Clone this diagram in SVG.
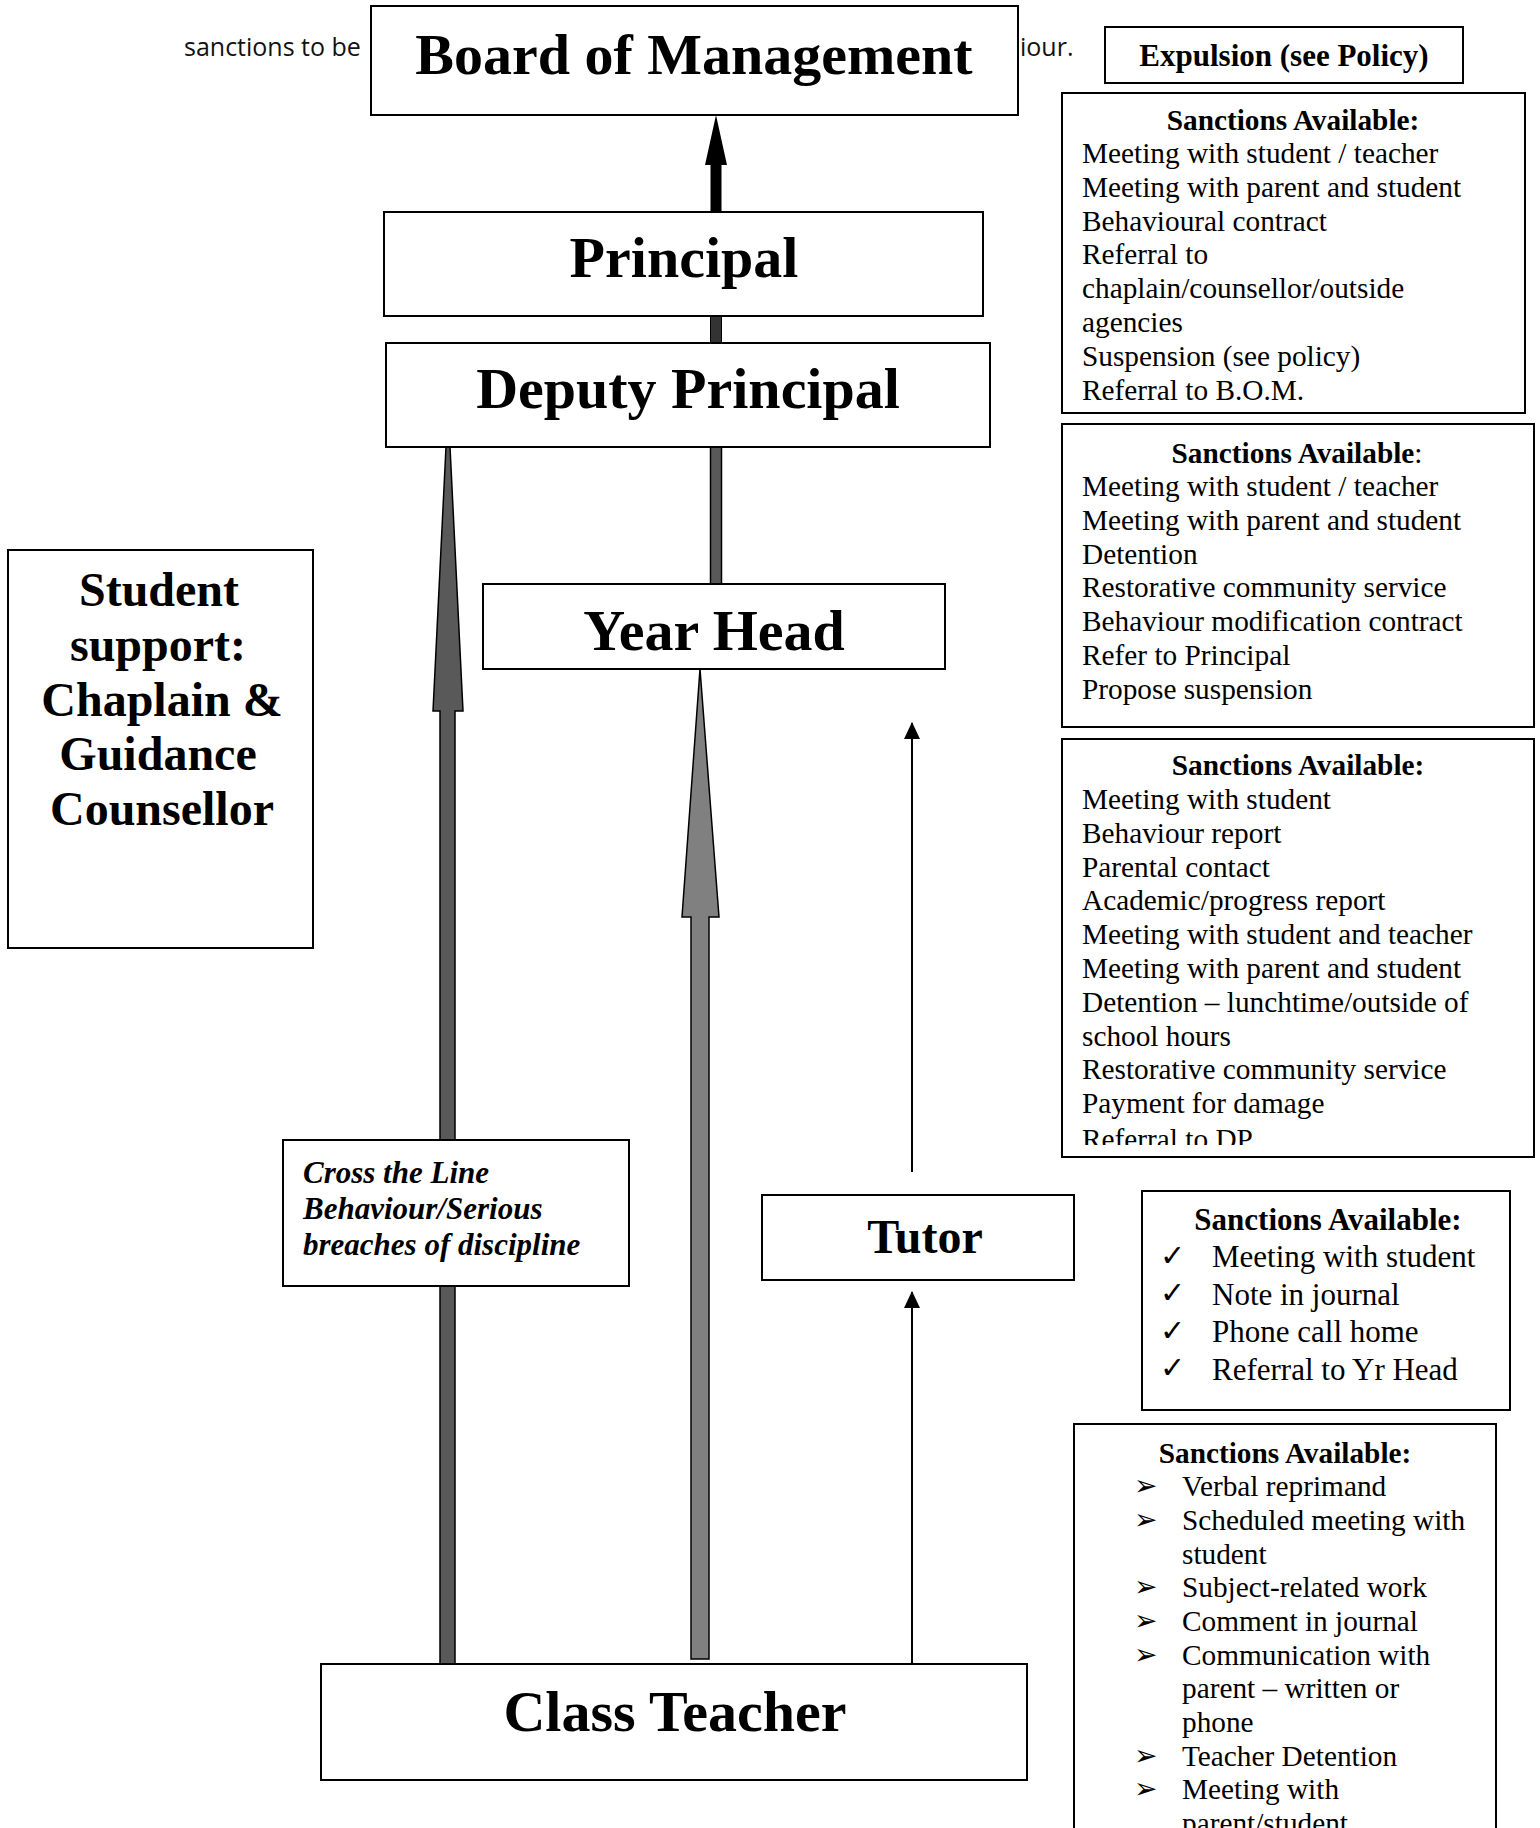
<svg xmlns="http://www.w3.org/2000/svg" width="1540" height="1828" viewBox="0 0 1540 1828">
<style>
.box{fill:#fff;stroke:#000;stroke-width:2}
.t{font-family:"Liberation Serif","Times New Roman",serif;fill:#000}
.big{font-size:58px;font-weight:bold;text-anchor:middle}
.hd{font-size:29.3px;font-weight:bold;text-anchor:middle}
.it{font-size:29.3px}
.intro{font-family:"Open Sans","Liberation Sans",sans-serif;font-size:25px;fill:#111}
.sym{font-family:"DejaVu Sans",sans-serif}
</style>
<defs>
<marker id="ah" markerUnits="userSpaceOnUse" markerWidth="17" markerHeight="16" refX="16" refY="8" orient="auto" viewBox="0 0 17 16">
<path d="M0 0 L17 8 L0 16 Z" fill="#000"/>
</marker>
<clipPath id="clip3"><rect x="1062" y="739" width="472" height="406"/></clipPath>
</defs>
<text class="intro" x="184" y="56">sanctions to be</text>
<text class="intro" x="1020" y="56">iour.</text>
<g id="connectors">
<polygon points="716,115 727,165 721.5,165 721.5,212 710.5,212 710.5,165 705,165" fill="#000"/>
<rect x="710.5" y="316" width="11" height="27" fill="#333" stroke="#000" stroke-width="1"/>
<rect x="710.5" y="447" width="11" height="137" fill="#595959" stroke="#000" stroke-width="1.5"/>
<polygon points="446,447 450,447 463,711 455,711 455,1664 440,1664 440,711 433,711" fill="#595959" stroke="#000" stroke-width="1.5"/>
<polygon points="700,669 719,917 709,917 709,1659 691,1659 691,917 682,917" fill="#808080" stroke="#000" stroke-width="1.5"/>
<line x1="912" y1="1664" x2="912" y2="1292" stroke="#000" stroke-width="2" marker-end="url(#ah)"/>
<line x1="912" y1="1172" x2="912" y2="723" stroke="#000" stroke-width="2" marker-end="url(#ah)"/>
</g>
<g id="board">
<rect class="box" x="371" y="6" width="647" height="109"/>
<text class="t big" x="694" y="74">Board of Management</text>
</g>
<g id="expulsion">
<rect class="box" x="1105" y="27" width="358" height="56"/>
<text class="t" x="1284" y="66" font-size="31" font-weight="bold" text-anchor="middle">Expulsion (see Policy)</text>
</g>
<g id="principal">
<rect class="box" x="384" y="212" width="599" height="104"/>
<text class="t big" x="684" y="277">Principal</text>
</g>
<g id="deputy">
<rect class="box" x="386" y="343" width="604" height="104"/>
<text class="t big" x="688" y="408">Deputy Principal</text>
</g>
<g id="yearhead">
<rect class="box" x="483" y="584" width="462" height="85"/>
<text class="t big" x="714" y="650">Year Head</text>
</g>
<g id="tutor">
<rect class="box" x="762" y="1195" width="312" height="85"/>
<text class="t" x="925" y="1253" font-size="48" font-weight="bold" text-anchor="middle">Tutor</text>
</g>
<g id="classteacher">
<rect class="box" x="321" y="1664" width="706" height="116"/>
<text class="t big" x="675" y="1731">Class Teacher</text>
</g>
<g id="studentsupport">
<rect class="box" x="8" y="550" width="305" height="398"/>
<text class="t" font-size="48" font-weight="bold" text-anchor="middle">
<tspan x="165" y="606">Student</tspan>
<tspan x="164" y="661">support:</tspan>
<tspan x="168" y="716">Chaplain &amp;</tspan>
<tspan x="164" y="770">Guidance</tspan>
<tspan x="162" y="825">Counsellor</tspan>
</text>
</g>
<g id="crossline">
<rect class="box" x="283" y="1140" width="346" height="146"/>
<text class="t" font-size="31" font-weight="bold" font-style="italic">
<tspan x="303" y="1183">Cross the Line</tspan>
<tspan x="303" y="1219">Behaviour/Serious</tspan>
<tspan x="303" y="1255">breaches of discipline</tspan>
</text>
</g>
<g id="sanctions-principal">
<rect class="box" x="1062" y="93" width="463" height="320"/>
<text class="t hd" x="1293" y="130">Sanctions Available:</text>
<text class="t it">
<tspan x="1082" y="163">Meeting with student / teacher</tspan>
<tspan x="1082" y="196.8">Meeting with parent and student</tspan>
<tspan x="1082" y="230.6">Behavioural contract</tspan>
<tspan x="1082" y="264.4">Referral to</tspan>
<tspan x="1082" y="298.2">chaplain/counsellor/outside</tspan>
<tspan x="1082" y="332">agencies</tspan>
<tspan x="1082" y="365.8">Suspension (see policy)</tspan>
<tspan x="1082" y="399.6">Referral to B.O.M.</tspan>
</text>
</g>
<g id="sanctions-deputy">
<rect class="box" x="1062" y="424" width="472" height="303"/>
<text class="t hd" x="1297" y="463">Sanctions Available<tspan font-weight="normal">:</tspan></text>
<text class="t it">
<tspan x="1082" y="496">Meeting with student / teacher</tspan>
<tspan x="1082" y="529.8">Meeting with parent and student</tspan>
<tspan x="1082" y="563.6">Detention</tspan>
<tspan x="1082" y="597.4">Restorative community service</tspan>
<tspan x="1082" y="631.2">Behaviour modification contract</tspan>
<tspan x="1082" y="665">Refer to Principal</tspan>
<tspan x="1082" y="698.8">Propose suspension</tspan>
</text>
</g>
<g id="sanctions-yearhead">
<rect class="box" x="1062" y="739" width="472" height="418"/>
<text class="t hd" x="1298" y="775">Sanctions Available:</text>
<text class="t it" clip-path="url(#clip3)">
<tspan x="1082" y="809">Meeting with student</tspan>
<tspan x="1082" y="842.8">Behaviour report</tspan>
<tspan x="1082" y="876.6">Parental contact</tspan>
<tspan x="1082" y="910.4">Academic/progress report</tspan>
<tspan x="1082" y="944.2">Meeting with student and teacher</tspan>
<tspan x="1082" y="978">Meeting with parent and student</tspan>
<tspan x="1082" y="1011.8">Detention – lunchtime/outside of</tspan>
<tspan x="1082" y="1045.6">school hours</tspan>
<tspan x="1082" y="1079.4">Restorative community service</tspan>
<tspan x="1082" y="1113.2">Payment for damage</tspan>
<tspan x="1082" y="1149">Referral to DP</tspan>
</text>
</g>
<g id="sanctions-tutor">
<rect class="box" x="1142" y="1191" width="368" height="219"/>
<text class="t" x="1328" y="1230" font-size="31" font-weight="bold" text-anchor="middle">Sanctions Available:</text>
<g class="sym" font-size="30">
<text x="1160" y="1266">✓</text>
<text x="1160" y="1303">✓</text>
<text x="1160" y="1341">✓</text>
<text x="1160" y="1378">✓</text>
</g>
<text class="t" font-size="31">
<tspan x="1212" y="1267">Meeting with student</tspan>
<tspan x="1212" y="1304.5">Note in journal</tspan>
<tspan x="1212" y="1342">Phone call home</tspan>
<tspan x="1212" y="1379.5">Referral to Yr Head</tspan>
</text>
</g>
<g id="sanctions-teacher">
<rect class="box" x="1074" y="1424" width="422" height="430"/>
<text class="t hd" x="1285" y="1463">Sanctions Available:</text>
<g class="sym" font-size="28">
<text x="1134" y="1495">➢</text>
<text x="1134" y="1529">➢</text>
<text x="1134" y="1596">➢</text>
<text x="1134" y="1630">➢</text>
<text x="1134" y="1664">➢</text>
<text x="1134" y="1765">➢</text>
<text x="1134" y="1798">➢</text>
</g>
<text class="t it">
<tspan x="1182" y="1496">Verbal reprimand</tspan>
<tspan x="1182" y="1530">Scheduled meeting with</tspan>
<tspan x="1182" y="1564">student</tspan>
<tspan x="1182" y="1597">Subject-related work</tspan>
<tspan x="1182" y="1631">Comment in journal</tspan>
<tspan x="1182" y="1665">Communication with</tspan>
<tspan x="1182" y="1698">parent – written or</tspan>
<tspan x="1182" y="1732">phone</tspan>
<tspan x="1182" y="1766">Teacher Detention</tspan>
<tspan x="1182" y="1799">Meeting with</tspan>
<tspan x="1182" y="1833">parent/student</tspan>
</text>
</g>
</svg>
